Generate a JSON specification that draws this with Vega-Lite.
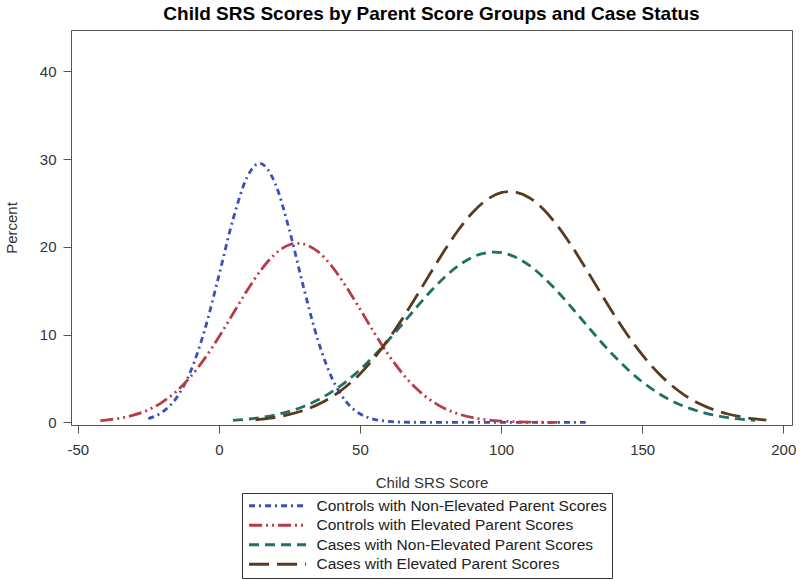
{
  "$schema": "https://vega.github.io/schema/vega-lite/v6.json",
  "width": 721,
  "height": 395,
  "autosize": "none",
  "padding": {"left": 71, "top": 30, "right": 8, "bottom": 155},
  "background": "white",
  "title": {
    "text": "Child SRS Scores by Parent Score Groups and Case Status",
    "font": "Liberation Sans",
    "fontSize": 19,
    "fontWeight": "bold",
    "color": "#000000",
    "anchor": "middle",
    "offset": 6
  },
  "config": {
    "view": {"stroke": "#555555", "strokeWidth": 1},
    "axis": {
      "labelFont": "Liberation Sans",
      "titleFont": "Liberation Sans",
      "labelFontSize": 15,
      "titleFontSize": 15,
      "titleFontWeight": "normal",
      "labelColor": "#333333",
      "titleColor": "#333333",
      "domainColor": "#555555",
      "tickColor": "#555555",
      "tickSize": 8,
      "grid": false
    }
  },
  "data": {
    "values": [
      {"g": "Controls with Non-Elevated Parent Scores", "x": -25, "y": 0.43},
      {"g": "Controls with Non-Elevated Parent Scores", "x": -20, "y": 1.18},
      {"g": "Controls with Non-Elevated Parent Scores", "x": -15, "y": 2.81},
      {"g": "Controls with Non-Elevated Parent Scores", "x": -10, "y": 5.82},
      {"g": "Controls with Non-Elevated Parent Scores", "x": -5, "y": 10.55},
      {"g": "Controls with Non-Elevated Parent Scores", "x": 0, "y": 16.71},
      {"g": "Controls with Non-Elevated Parent Scores", "x": 5, "y": 23.11},
      {"g": "Controls with Non-Elevated Parent Scores", "x": 10, "y": 27.93},
      {"g": "Controls with Non-Elevated Parent Scores", "x": 14.5, "y": 29.5},
      {"g": "Controls with Non-Elevated Parent Scores", "x": 20, "y": 27.18},
      {"g": "Controls with Non-Elevated Parent Scores", "x": 25, "y": 21.9},
      {"g": "Controls with Non-Elevated Parent Scores", "x": 30, "y": 15.41},
      {"g": "Controls with Non-Elevated Parent Scores", "x": 35, "y": 9.47},
      {"g": "Controls with Non-Elevated Parent Scores", "x": 40, "y": 5.09},
      {"g": "Controls with Non-Elevated Parent Scores", "x": 45, "y": 2.39},
      {"g": "Controls with Non-Elevated Parent Scores", "x": 50, "y": 0.98},
      {"g": "Controls with Non-Elevated Parent Scores", "x": 55, "y": 0.35},
      {"g": "Controls with Non-Elevated Parent Scores", "x": 60, "y": 0.11},
      {"g": "Controls with Non-Elevated Parent Scores", "x": 65, "y": 0.03},
      {"g": "Controls with Non-Elevated Parent Scores", "x": 70, "y": 0.01},
      {"g": "Controls with Non-Elevated Parent Scores", "x": 80, "y": 0},
      {"g": "Controls with Non-Elevated Parent Scores", "x": 90, "y": 0},
      {"g": "Controls with Non-Elevated Parent Scores", "x": 100, "y": 0},
      {"g": "Controls with Non-Elevated Parent Scores", "x": 110, "y": 0},
      {"g": "Controls with Non-Elevated Parent Scores", "x": 120, "y": 0},
      {"g": "Controls with Non-Elevated Parent Scores", "x": 130, "y": 0},

      {"g": "Controls with Elevated Parent Scores", "x": -42, "y": 0.2},
      {"g": "Controls with Elevated Parent Scores", "x": -40, "y": 0.26},
      {"g": "Controls with Elevated Parent Scores", "x": -35, "y": 0.48},
      {"g": "Controls with Elevated Parent Scores", "x": -30, "y": 0.85},
      {"g": "Controls with Elevated Parent Scores", "x": -25, "y": 1.43},
      {"g": "Controls with Elevated Parent Scores", "x": -20, "y": 2.31},
      {"g": "Controls with Elevated Parent Scores", "x": -15, "y": 3.55},
      {"g": "Controls with Elevated Parent Scores", "x": -10, "y": 5.21},
      {"g": "Controls with Elevated Parent Scores", "x": -5, "y": 7.29},
      {"g": "Controls with Elevated Parent Scores", "x": 0, "y": 9.72},
      {"g": "Controls with Elevated Parent Scores", "x": 5, "y": 12.37},
      {"g": "Controls with Elevated Parent Scores", "x": 10, "y": 15.02},
      {"g": "Controls with Elevated Parent Scores", "x": 15, "y": 17.39},
      {"g": "Controls with Elevated Parent Scores", "x": 20, "y": 19.2},
      {"g": "Controls with Elevated Parent Scores", "x": 25, "y": 20.23},
      {"g": "Controls with Elevated Parent Scores", "x": 28, "y": 20.4},
      {"g": "Controls with Elevated Parent Scores", "x": 30, "y": 20.32},
      {"g": "Controls with Elevated Parent Scores", "x": 35, "y": 19.48},
      {"g": "Controls with Elevated Parent Scores", "x": 40, "y": 17.8},
      {"g": "Controls with Elevated Parent Scores", "x": 45, "y": 15.52},
      {"g": "Controls with Elevated Parent Scores", "x": 50, "y": 12.91},
      {"g": "Controls with Elevated Parent Scores", "x": 55, "y": 10.24},
      {"g": "Controls with Elevated Parent Scores", "x": 60, "y": 7.75},
      {"g": "Controls with Elevated Parent Scores", "x": 65, "y": 5.59},
      {"g": "Controls with Elevated Parent Scores", "x": 70, "y": 3.85},
      {"g": "Controls with Elevated Parent Scores", "x": 75, "y": 2.53},
      {"g": "Controls with Elevated Parent Scores", "x": 80, "y": 1.58},
      {"g": "Controls with Elevated Parent Scores", "x": 85, "y": 0.95},
      {"g": "Controls with Elevated Parent Scores", "x": 90, "y": 0.54},
      {"g": "Controls with Elevated Parent Scores", "x": 95, "y": 0.29},
      {"g": "Controls with Elevated Parent Scores", "x": 100, "y": 0.15},
      {"g": "Controls with Elevated Parent Scores", "x": 105, "y": 0.07},
      {"g": "Controls with Elevated Parent Scores", "x": 110, "y": 0.03},
      {"g": "Controls with Elevated Parent Scores", "x": 115, "y": 0.01},
      {"g": "Controls with Elevated Parent Scores", "x": 120, "y": 0.01},

      {"g": "Cases with Non-Elevated Parent Scores", "x": 5, "y": 0.23},
      {"g": "Cases with Non-Elevated Parent Scores", "x": 10, "y": 0.36},
      {"g": "Cases with Non-Elevated Parent Scores", "x": 15, "y": 0.56},
      {"g": "Cases with Non-Elevated Parent Scores", "x": 20, "y": 0.85},
      {"g": "Cases with Non-Elevated Parent Scores", "x": 25, "y": 1.26},
      {"g": "Cases with Non-Elevated Parent Scores", "x": 30, "y": 1.81},
      {"g": "Cases with Non-Elevated Parent Scores", "x": 35, "y": 2.54},
      {"g": "Cases with Non-Elevated Parent Scores", "x": 40, "y": 3.47},
      {"g": "Cases with Non-Elevated Parent Scores", "x": 45, "y": 4.62},
      {"g": "Cases with Non-Elevated Parent Scores", "x": 50, "y": 6.0},
      {"g": "Cases with Non-Elevated Parent Scores", "x": 55, "y": 7.58},
      {"g": "Cases with Non-Elevated Parent Scores", "x": 60, "y": 9.33},
      {"g": "Cases with Non-Elevated Parent Scores", "x": 65, "y": 11.2},
      {"g": "Cases with Non-Elevated Parent Scores", "x": 70, "y": 13.09},
      {"g": "Cases with Non-Elevated Parent Scores", "x": 75, "y": 14.91},
      {"g": "Cases with Non-Elevated Parent Scores", "x": 80, "y": 16.54},
      {"g": "Cases with Non-Elevated Parent Scores", "x": 85, "y": 17.88},
      {"g": "Cases with Non-Elevated Parent Scores", "x": 90, "y": 18.84},
      {"g": "Cases with Non-Elevated Parent Scores", "x": 95, "y": 19.34},
      {"g": "Cases with Non-Elevated Parent Scores", "x": 97.5, "y": 19.4},
      {"g": "Cases with Non-Elevated Parent Scores", "x": 100, "y": 19.34},
      {"g": "Cases with Non-Elevated Parent Scores", "x": 105, "y": 18.84},
      {"g": "Cases with Non-Elevated Parent Scores", "x": 110, "y": 17.88},
      {"g": "Cases with Non-Elevated Parent Scores", "x": 115, "y": 16.54},
      {"g": "Cases with Non-Elevated Parent Scores", "x": 120, "y": 14.91},
      {"g": "Cases with Non-Elevated Parent Scores", "x": 125, "y": 13.09},
      {"g": "Cases with Non-Elevated Parent Scores", "x": 130, "y": 11.2},
      {"g": "Cases with Non-Elevated Parent Scores", "x": 135, "y": 9.33},
      {"g": "Cases with Non-Elevated Parent Scores", "x": 140, "y": 7.58},
      {"g": "Cases with Non-Elevated Parent Scores", "x": 145, "y": 6.0},
      {"g": "Cases with Non-Elevated Parent Scores", "x": 150, "y": 4.62},
      {"g": "Cases with Non-Elevated Parent Scores", "x": 155, "y": 3.47},
      {"g": "Cases with Non-Elevated Parent Scores", "x": 160, "y": 2.54},
      {"g": "Cases with Non-Elevated Parent Scores", "x": 165, "y": 1.81},
      {"g": "Cases with Non-Elevated Parent Scores", "x": 170, "y": 1.26},
      {"g": "Cases with Non-Elevated Parent Scores", "x": 175, "y": 0.85},
      {"g": "Cases with Non-Elevated Parent Scores", "x": 180, "y": 0.56},
      {"g": "Cases with Non-Elevated Parent Scores", "x": 185, "y": 0.36},
      {"g": "Cases with Non-Elevated Parent Scores", "x": 190, "y": 0.22},

      {"g": "Cases with Elevated Parent Scores", "x": 13, "y": 0.29},
      {"g": "Cases with Elevated Parent Scores", "x": 15, "y": 0.36},
      {"g": "Cases with Elevated Parent Scores", "x": 20, "y": 0.57},
      {"g": "Cases with Elevated Parent Scores", "x": 25, "y": 0.9},
      {"g": "Cases with Elevated Parent Scores", "x": 30, "y": 1.36},
      {"g": "Cases with Elevated Parent Scores", "x": 35, "y": 2.02},
      {"g": "Cases with Elevated Parent Scores", "x": 40, "y": 2.9},
      {"g": "Cases with Elevated Parent Scores", "x": 45, "y": 4.06},
      {"g": "Cases with Elevated Parent Scores", "x": 50, "y": 5.52},
      {"g": "Cases with Elevated Parent Scores", "x": 55, "y": 7.31},
      {"g": "Cases with Elevated Parent Scores", "x": 60, "y": 9.42},
      {"g": "Cases with Elevated Parent Scores", "x": 65, "y": 11.79},
      {"g": "Cases with Elevated Parent Scores", "x": 70, "y": 14.36},
      {"g": "Cases with Elevated Parent Scores", "x": 75, "y": 17.01},
      {"g": "Cases with Elevated Parent Scores", "x": 80, "y": 19.6},
      {"g": "Cases with Elevated Parent Scores", "x": 85, "y": 21.97},
      {"g": "Cases with Elevated Parent Scores", "x": 90, "y": 23.94},
      {"g": "Cases with Elevated Parent Scores", "x": 95, "y": 25.38},
      {"g": "Cases with Elevated Parent Scores", "x": 100, "y": 26.17},
      {"g": "Cases with Elevated Parent Scores", "x": 103, "y": 26.3},
      {"g": "Cases with Elevated Parent Scores", "x": 105, "y": 26.24},
      {"g": "Cases with Elevated Parent Scores", "x": 110, "y": 25.59},
      {"g": "Cases with Elevated Parent Scores", "x": 115, "y": 24.28},
      {"g": "Cases with Elevated Parent Scores", "x": 120, "y": 22.4},
      {"g": "Cases with Elevated Parent Scores", "x": 125, "y": 20.1},
      {"g": "Cases with Elevated Parent Scores", "x": 130, "y": 17.54},
      {"g": "Cases with Elevated Parent Scores", "x": 135, "y": 14.89},
      {"g": "Cases with Elevated Parent Scores", "x": 140, "y": 12.29},
      {"g": "Cases with Elevated Parent Scores", "x": 145, "y": 9.87},
      {"g": "Cases with Elevated Parent Scores", "x": 150, "y": 7.71},
      {"g": "Cases with Elevated Parent Scores", "x": 155, "y": 5.85},
      {"g": "Cases with Elevated Parent Scores", "x": 160, "y": 4.33},
      {"g": "Cases with Elevated Parent Scores", "x": 165, "y": 3.11},
      {"g": "Cases with Elevated Parent Scores", "x": 170, "y": 2.17},
      {"g": "Cases with Elevated Parent Scores", "x": 175, "y": 1.48},
      {"g": "Cases with Elevated Parent Scores", "x": 180, "y": 0.98},
      {"g": "Cases with Elevated Parent Scores", "x": 185, "y": 0.63},
      {"g": "Cases with Elevated Parent Scores", "x": 190, "y": 0.39},
      {"g": "Cases with Elevated Parent Scores", "x": 194, "y": 0.26}
    ]
  },
  "mark": {"type": "line", "strokeWidth": 2.8, "interpolate": "monotone", "strokeCap": "butt"},
  "encoding": {
    "x": {
      "field": "x",
      "type": "quantitative",
      "scale": {"domain": [-52.4, 203.1], "nice": false, "zero": false},
      "axis": {
        "values": [-50, 0, 50, 100, 150, 200],
        "labelExpr": "toString(datum.value)",
        "title": "Child SRS Score",
        "labelPadding": 9,
        "titlePadding": 18
      }
    },
    "y": {
      "field": "y",
      "type": "quantitative",
      "scale": {"domain": [-0.3, 44.7], "nice": false, "zero": false},
      "axis": {
        "values": [0, 10, 20, 30, 40],
        "title": "Percent",
        "labelPadding": 7,
        "titlePadding": 20
      }
    },
    "color": {
      "field": "g",
      "type": "nominal",
      "scale": {
        "domain": ["Controls with Non-Elevated Parent Scores", "Controls with Elevated Parent Scores", "Cases with Non-Elevated Parent Scores", "Cases with Elevated Parent Scores"],
        "range": ["#3b4fb8", "#b83c48", "#1f7066", "#5a3a1c"]
      },
      "legend": {
        "title": null,
        "orient": "none",
        "legendX": 171,
        "legendY": 463,
        "direction": "vertical",
        "strokeColor": "#333333",
        "padding": 5,
        "symbolType": "M-1,0H9",
        "symbolSize": 130,
        "symbolStrokeWidth": 2.8,
        "labelFont": "Liberation Sans",
        "labelFontSize": 15.5,
        "labelColor": "#222222",
        "labelOffset": 54,
        "rowPadding": 2.5,
        "labelLimit": 500
      }
    },
    "strokeDash": {
      "field": "g",
      "type": "nominal",
      "scale": {
        "domain": ["Controls with Non-Elevated Parent Scores", "Controls with Elevated Parent Scores", "Cases with Non-Elevated Parent Scores", "Cases with Elevated Parent Scores"],
        "range": [[6, 4, 2, 4], [13, 4, 2, 4, 2, 4], [10, 6], [20, 8]]
      },
      "legend": {
        "title": null,
        "orient": "none",
        "legendX": 171,
        "legendY": 463,
        "direction": "vertical",
        "strokeColor": "#333333",
        "padding": 5,
        "symbolType": "M-1,0H9",
        "symbolSize": 130,
        "symbolStrokeWidth": 2.8,
        "labelFont": "Liberation Sans",
        "labelFontSize": 15.5,
        "labelColor": "#222222",
        "labelOffset": 54,
        "rowPadding": 2.5,
        "labelLimit": 500
      }
    }
  }
}
